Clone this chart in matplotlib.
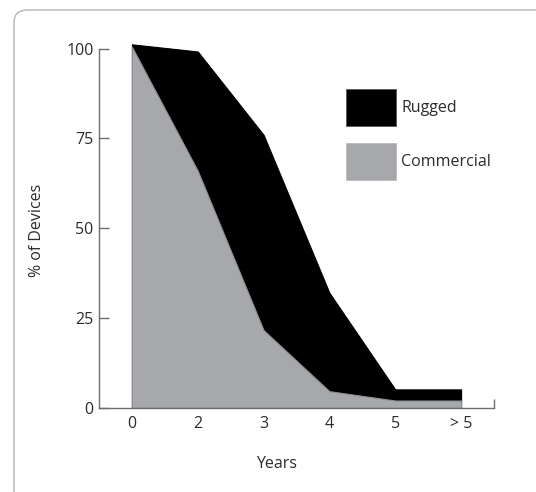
import matplotlib
matplotlib.use("Agg")
import matplotlib.pyplot as plt
from matplotlib.patches import FancyBboxPatch, Patch
import numpy as np

categories = ["0", "2", "3", "4", "5", "> 5"]
rugged = [101.2, 99.2, 76, 32, 5.1, 5.1]
commercial = [100.5, 66, 21.6, 4.6, 2.0, 2.0]
y_ticks = [0, 25, 50, 75, 100]

TEXT = "#2b2b2b"
AXC = "#6e6e6e"
GRAY = "#a7a8ab"
FS = 11.5

plt.rcParams["font.family"] = ["Open Sans", "DejaVu Sans"]

fig = plt.figure(figsize=(5.36, 4.92), dpi=100)
W, H = 536, 492

# rounded frame around the whole picture (extends past the right/bottom edge)
frame = FancyBboxPatch((14 / W, 1 - 600 / H), 700 / W, (600 - 10) / H,
                       boxstyle="round,pad=0,rounding_size=0.025",
                       transform=fig.transFigure, facecolor="none",
                       edgecolor="#b4b4b4", linewidth=1.0)
fig.patches.append(frame)

AX_L, AX_R, AX_B, AX_T = 99, 494, 407.7, 40
ax = fig.add_axes([AX_L / W, 1 - AX_B / H, (AX_R - AX_L) / W, (AX_B - AX_T) / H])
x = np.arange(len(categories))

ax.fill_between(x, 0, rugged, facecolor="black", edgecolor="black", linewidth=0.8)
ax.fill_between(x, 0, commercial, facecolor=GRAY, edgecolor="#8e8f92", linewidth=0.8)

ax.set_xlim(-0.5, 5.5)
ax.set_ylim(0, 102.4)

for s in ["top", "right"]:
    ax.spines[s].set_visible(False)
for s in ["left", "bottom"]:
    ax.spines[s].set_color(AXC)
    ax.spines[s].set_linewidth(1.0)
ax.spines["left"].set_bounds(0, 100)

ax.set_yticks(y_ticks)
ax.set_yticklabels([str(v) for v in y_ticks])
ax.tick_params(axis="y", direction="in", length=7.2, width=1.0, color=AXC,
               pad=4, labelsize=FS, labelcolor=TEXT)
ax.set_xticks(x)
ax.set_xticklabels(categories)
ax.tick_params(axis="x", which="major", length=0, pad=6, labelsize=FS, labelcolor=TEXT)
ax.set_xticks([5.5], minor=True)
ax.tick_params(axis="x", which="minor", direction="in", length=6.8, width=1.0, color=AXC)

axw, axh = AX_R - AX_L, AX_B - AX_T
ax.set_xlabel("Years", fontsize=FS, color=TEXT)
ax.xaxis.set_label_coords((276.5 - AX_L) / axw, -(456 - AX_B) / axh)
ax.set_ylabel("% of Devices", fontsize=FS, color=TEXT)
ax.yaxis.set_label_coords(-(AX_L - 45) / axw, (AX_B - 230.5) / axh)

handles = [Patch(facecolor="black", edgecolor="#555555", linewidth=0.6),
           Patch(facecolor=GRAY, edgecolor="#bbbbbb", linewidth=0.6)]
leg = ax.legend(handles, ["Rugged", "Commercial"], loc="upper left",
                bbox_to_anchor=(345.7 / W, 1 - 89.3 / H), bbox_transform=fig.transFigure,
                frameon=False, fontsize=FS, handlelength=3.13, handleheight=3.19,
                handletextpad=0.35, labelspacing=1.02, borderpad=0, borderaxespad=0)
for t in leg.get_texts():
    t.set_color(TEXT)

fig.savefig("out.png", dpi=100)
